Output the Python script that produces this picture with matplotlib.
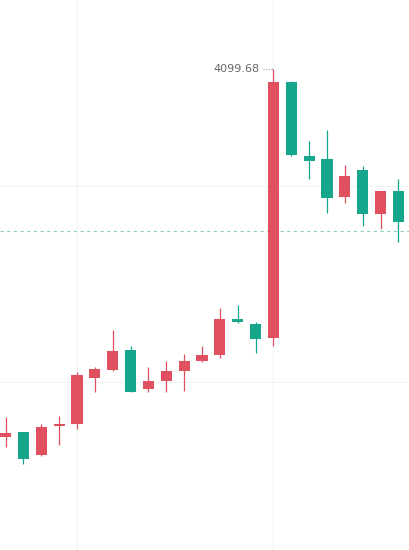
import matplotlib
matplotlib.use("Agg")
import matplotlib.pyplot as plt

# candle data (index order, left to right)
opens = [3911.83, 3914.38, 3902.82, 3917.74, 3918.76, 3942.20, 3946.12, 3956.31,
         3936.44, 3940.67, 3945.76, 3950.70, 3953.91, 3971.94, 3969.55, 3962.27,
         4092.82, 4055.13, 4053.60, 4034.40, 4048.00, 4025.74, 4037.45]
closes = [3914.18, 3900.93, 3917.23, 3918.46, 3943.57, 3946.63, 3955.80, 3935.06,
          3940.67, 3945.61, 3950.70, 3953.76, 3971.94, 3970.57, 3962.06, 4092.82,
          4055.64, 4052.74, 4033.89, 4044.94, 4025.74, 4037.45, 4021.66]
highs = [3922.18, 3914.53, 3918.61, 3922.69, 3945.25, 3947.80, 3966.49, 3958.50,
         3947.65, 3950.70, 3954.27, 3958.34, 3977.70, 3979.23, 3970.42, 4099.68,
         4093.33, 4062.92, 4068.37, 4050.54, 4049.88, 4037.45, 4043.57]
lows = [3907.05, 3898.08, 3902.31, 3908.07, 3915.91, 3935.06, 3945.61, 3934.65,
        3934.66, 3935.06, 3935.57, 3950.35, 3952.38, 3970.21, 3954.62, 3958.50,
        4055.13, 4043.26, 4026.25, 4031.03, 4019.62, 4017.79, 4011.47]
last_price = 4016.77
max_label = "4099.68"
grid_prices = [3940, 4040]
grid_idx = [4, 15]

up_color = "#e0505e"
down_color = "#16a68b"

fig = plt.figure(figsize=(4.09, 5.5), dpi=100)
ax = fig.add_axes([0, 0, 1, 1])

# grid
for p in grid_prices:
    ax.axhline(p, color="#f2f2f2", lw=0.8, zorder=0)
for i in grid_idx:
    ax.axvline(i, color="#f2f2f2", lw=0.8, zorder=0)

# candles
for i in range(len(opens)):
    o, c, h, l = opens[i], closes[i], highs[i], lows[i]
    col = up_color if c >= o else down_color
    ax.vlines(i, l, h, color=col, lw=0.9, zorder=2)
    ax.bar(i, max(abs(c - o), 0.6), bottom=min(o, c), width=0.62, color=col,
           linewidth=0, zorder=3)

# last price line
ax.axhline(last_price, color="#8ccfc1", lw=0.8, ls=(0, (3, 3)), zorder=1)

# max marker
imax = highs.index(max(highs))
ax.plot([imax - 0.6, imax], [highs[imax], highs[imax]], color="#999999", lw=0.8,
        ls=(0, (1, 1.5)), zorder=2)
ax.annotate(max_label, xy=(imax, highs[imax]), xytext=(-14, 0),
            textcoords="offset pixels", ha="right", va="center",
            fontsize=8, color="#666666")

ax.set_xlim(-0.31, 22.59)
ax.set_ylim(3854.4, 4134.6)
ax.axis("off")

fig.savefig("out.png", dpi=100, facecolor="white")
